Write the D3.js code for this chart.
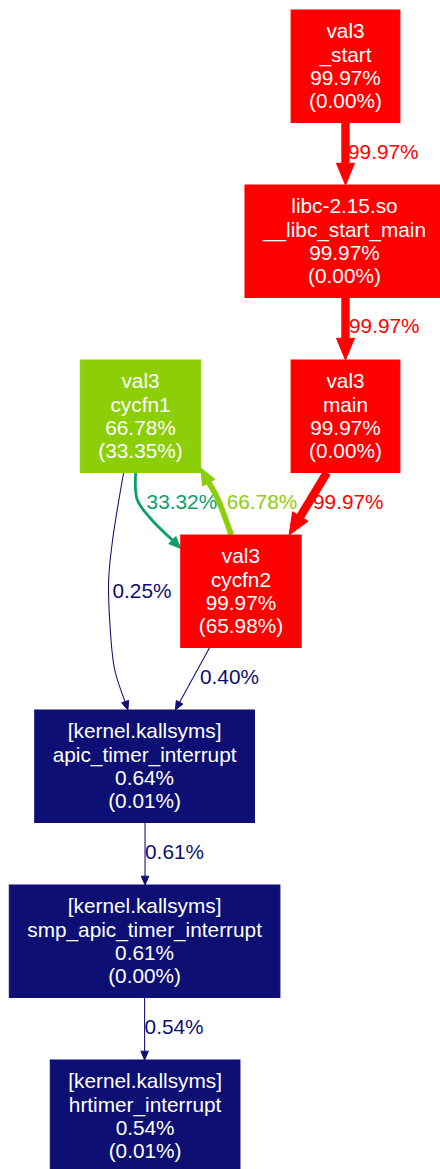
<!DOCTYPE html>
<html>
<head>
<meta charset="utf-8">
<script src="https://cdn.jsdelivr.net/npm/d3@7"></script>
<style>
	body { margin: 0; background: #fff; }
	text { font-family: "Liberation Sans", Arial, sans-serif; font-size: 20.8px; }
</style>
</head>
<body>
<script>
// call graph: nodes
let nodeIds =		['start', 'libc', 'main', 'cycfn1', 'cycfn2', 'apic', 'smp', 'hrtimer']
let nodeModules =	['val3', 'libc-2.15.so', 'val3', 'val3', 'val3', '[kernel.kallsyms]', '[kernel.kallsyms]', '[kernel.kallsyms]']
let nodeFuncs =		['_start', '__libc_start_main', 'main', 'cycfn1', 'cycfn2', 'apic_timer_interrupt', 'smp_apic_timer_interrupt', 'hrtimer_interrupt']
let nodeTotal =		[99.97, 99.97, 99.97, 66.78, 99.97, 0.64, 0.61, 0.54]
let nodeSelf =		[0.00, 0.00, 0.00, 33.35, 65.98, 0.01, 0.00, 0.01]

// call graph: edges
let edgeFrom =		['start', 'libc', 'main', 'cycfn1', 'cycfn2', 'cycfn1', 'cycfn2', 'apic', 'smp']
let edgeTo =		['libc', 'main', 'cycfn2', 'cycfn2', 'cycfn1', 'apic', 'apic', 'smp', 'hrtimer']
let edgeValue =		[99.97, 99.97, 99.97, 33.32, 66.78, 0.25, 0.40, 0.61, 0.54]

// layout (dot-like ranks / columns)
let rank =	{start: 0, libc: 1, main: 2, cycfn1: 2, cycfn2: 3, apic: 4, smp: 5, hrtimer: 6}
let col =	{start: 2, libc: 1.99, main: 2, cycfn1: 0, cycfn2: 0.98, apic: 0.04, smp: 0.04, hrtimer: 0.045}
// ports: side + fraction, 's'/'t' = line up with the other end; via = offsets from the start point
let route = [
	{s: ['b', 0.5],		t: ['t', 's']},
	{s: ['b', 't'],		t: ['t', 0.5]},
	{s: ['b', 0.33],	t: ['t', 0.9]},
	{s: ['b', 0.46],	t: ['l', 0.12], via: [[1.5, 27], [14, 45]]},
	{s: ['t', 0.42],	t: ['r', 0.96], via: [[-14, -37]]},
	{s: ['b', 0.36],	t: ['t', 0.424], via: [[-11, 67], [-15, 107], [-14, 147], [-9, 197]]},
	{s: ['b', 0.24],	t: ['t', 0.64]},
	{s: ['b', 0.502],	t: ['t', 's']},
	{s: ['b', 0.5],		t: ['t', 's']}
]
let labelOff = [[2.5, -1.5], [3.5, -3], [5, -1.5], [-11.6, -8.6], [10.7, 0.5], [-13.3, 0], [7.5, -1.5], [0, -2], [0, -2]]

let W = 440, H = 1169
let nodeH = 112.5, pad = 36, lineH = 23.3

let y = d3.scaleLinear().domain([0, 6]).range([10, 1060])
let x = d3.scaleLinear().domain([0, 2]).range([140.5, 345.5])
let pen = d3.scaleLinear().domain([0, 100]).range([0, 8.4])

// gprof2dot temperature colour map
let colour = function(v) {
	let w = v / 100
	return d3.hsl(240 * (1 - w), 0.8 + 0.2 * w, 0.25 + 0.25 * w).formatHex()
}

let svg = d3.select('body').append('svg').attr('width', W).attr('height', H)
svg.append('rect').attr('width', W).attr('height', H).attr('fill', '#fff')
let gEdges = svg.append('g')
let gNodes = svg.append('g')

let nodes = {}
nodeIds.forEach(function(id, i) {
	let g = gNodes.append('g')
	let cx = x(col[id]), y0 = y(rank[id]), cy = y0 + nodeH / 2
	let lines = [nodeModules[i], nodeFuncs[i], nodeTotal[i].toFixed(2) + '%', '(' + nodeSelf[i].toFixed(2) + '%)']
	let maxW = 0
	lines.forEach(function(t, k) {
		let tx = g.append('text')
			.attr('x', cx).attr('y', cy + (k - 1.5) * lineH + 7)
			.attr('text-anchor', 'middle').attr('fill', '#fff')
			.text(t)
		maxW = Math.max(maxW, tx.node().getComputedTextLength())
	})
	let w = maxW + pad
	let c = colour(nodeTotal[i])
	g.insert('rect', 'text')
		.attr('x', cx - w / 2).attr('y', y0)
		.attr('width', w).attr('height', nodeH)
		.attr('fill', c).attr('stroke', c).attr('stroke-width', 1)
	nodes[id] = {x0: cx - w / 2, x1: cx + w / 2, y0: y0, y1: y0 + nodeH, w: w}
})

let port = function(n, side, f) {
	if (side == 'b') return [n.x0 + f * n.w, n.y1]
	if (side == 't') return [n.x0 + f * n.w, n.y0]
	if (side == 'l') return [n.x0, n.y0 + f * nodeH]
	return [n.x1, n.y0 + f * nodeH]
}

let line = d3.line().curve(d3.curveCatmullRom.alpha(0.5))

edgeValue.forEach(function(v, i) {
	let r = route[i]
	let sn = nodes[edgeFrom[i]], tn = nodes[edgeTo[i]]
	let s, t
	if (r.s[1] == 't') {
		t = port(tn, r.t[0], r.t[1])
		s = [t[0], r.s[0] == 'b' ? sn.y1 : sn.y0]
	} else {
		s = port(sn, r.s[0], r.s[1])
		t = r.t[1] == 's' ? [s[0], r.t[0] == 't' ? tn.y0 : tn.y1] : port(tn, r.t[0], r.t[1])
	}
	let via = (r.via || []).map(d => [s[0] + d[0], s[1] + d[1]])
	let c = colour(v)
	let pw = Math.max(pen(v), 1.05)

	// arrow head
	let prev = via.length ? via[via.length - 1] : s
	let dx = t[0] - prev[0], dy = t[1] - prev[1], dl = Math.hypot(dx, dy)
	let ux = dx / dl, uy = dy / dl
	let L = 7 + 1.75 * pw, hw = 3 + 0.72 * pw
	let base = [t[0] - ux * L, t[1] - uy * L]

	gEdges.append('path')
		.attr('d', line([s].concat(via, [base])))
		.attr('fill', 'none').attr('stroke', c).attr('stroke-width', pw)
	gEdges.append('path')
		.attr('d', 'M' + t + 'L' + [base[0] - uy * hw, base[1] + ux * hw] + 'L' + [base[0] + uy * hw, base[1] - ux * hw] + 'Z')
		.attr('fill', c).attr('stroke', c).attr('stroke-width', 1)

	let mx = (s[0] + t[0]) / 2, my = (s[1] + t[1]) / 2
	gEdges.append('text')
		.attr('x', mx + labelOff[i][0]).attr('y', my + labelOff[i][1] + 7)
		.attr('fill', c)
		.text(v.toFixed(2) + '%')
})
</script>
</body>
</html>
